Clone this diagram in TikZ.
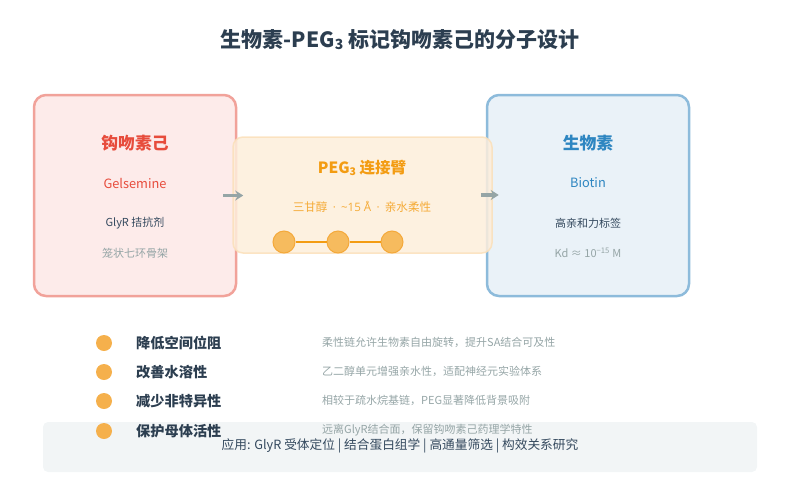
\documentclass[tikz,border=0pt]{standalone}
\usepackage{fontspec}
\setmainfont{Noto Sans CJK SC}
\newfontfamily\latinfont{Open Sans}
\usetikzlibrary{arrows.meta}

\definecolor{ink}{HTML}{2C3E50}
\definecolor{darktxt}{HTML}{34495E}
\definecolor{graytxt}{HTML}{95A5A6}
\definecolor{gelred}{HTML}{E74C3C}
\definecolor{gelfill}{HTML}{FDEBEA}
\definecolor{gelline}{HTML}{F1A29A}
\definecolor{pegorange}{HTML}{F39C12}
\definecolor{pegfill}{HTML}{FDEEDB}
\definecolor{pegline}{HTML}{FBE0BA}
\definecolor{beadfill}{HTML}{F6BB5E}
\definecolor{beadline}{HTML}{F4A93A}
\definecolor{bioblue}{HTML}{2E86C1}
\definecolor{biofill}{HTML}{EAF2F8}
\definecolor{bioline}{HTML}{8DBBDB}
\definecolor{dotfill}{HTML}{F5B04C}
\definecolor{barfill}{HTML}{F2F5F6}
\definecolor{arrowgray}{HTML}{95A5A6}

\tikzset{
  molbox/.style={rounded corners=12pt, line width=2.5pt, minimum width=202pt, minimum height=201pt},
  linkbox/.style={rounded corners=10pt, draw=pegline, fill=pegfill, fill opacity=0.85, draw opacity=0.85,
    line width=1.5pt, minimum width=259pt, minimum height=116pt},
  bead/.style={circle, draw=beadline, fill=beadfill, line width=1pt, minimum size=22pt, inner sep=0pt},
  dot/.style={circle, fill=dotfill, minimum size=16pt, inner sep=0pt},
  point/.style={anchor=west, font=\fontsize{14.2}{17}\selectfont\bfseries, text=ink, inner sep=0pt},
  note/.style={anchor=west, font=\fontsize{11}{13}\selectfont, text=graytxt, inner sep=0pt},
  flow/.style={draw=arrowgray, line width=3.2pt, -{Stealth[length=8pt,width=10pt]}},
}

\begin{document}
\begin{tikzpicture}[x=1pt,y=-1pt]
        \useasboundingbox (0,0) rectangle (800,485);
        % title
        \node[font=\fontsize{21}{25}\selectfont\bfseries, text=ink] (title) at (400,40)
          {生物素-PEG\raisebox{-0.15ex}{\fontsize{14}{15}\selectfont 3} 标记钩吻素己的分子设计};

        % bottom bar (behind the last row)
        \node[fill=barfill, rounded corners=5pt, minimum width=714pt, minimum height=50pt] (bar) at (400,447) {};
        \node[font=\fontsize{12.7}{15}\selectfont, text=darktxt] (apps) at (400,446)
          {应用: GlyR 受体定位 | 结合蛋白组学 | 高通量筛选 | 构效关系研究};

        % gelsemine box
        \node[molbox, draw=gelline, fill=gelfill] (gel) at (135,195.5) {};
        \node[font=\fontsize{16.8}{20}\selectfont\bfseries, text=gelred] (gelname) at (135,143) {钩吻素己};
        \node[font=\fontsize{12.8}{15}\selectfont, text=gelred] (gelen) at (135,183) {Gelsemine};
        \node[font=\fontsize{11}{13}\selectfont, text=darktxt] (gelrole) at (135,223) {GlyR 拮抗剂};
        \node[font=\fontsize{11}{13}\selectfont, text=graytxt] (gelcore) at (135,253) {笼状七环骨架};

        % biotin box
        \node[molbox, draw=bioline, fill=biofill] (bio) at (588,195.5) {};
        \node[font=\fontsize{16.8}{20}\selectfont\bfseries, text=bioblue] (bioname) at (588,143) {生物素};
        \node[font=\fontsize{12.8}{15}\selectfont, text=bioblue] (bioen) at (588,183) {Biotin};
        \node[font=\fontsize{11}{13}\selectfont, text=darktxt] (biorole) at (588,223) {高亲和力标签};
        \node[font=\fontsize{11}{13}\selectfont, text=graytxt] (biokd) at (588,253) {Kd ≈ 10\textsuperscript{−15} M};

        % PEG3 linker box
        \node[linkbox] (peg) at (362.5,195) {};
        \node[font=\fontsize{15.5}{18}\selectfont\bfseries, text=pegorange] (pegname) at (362,168)
          {PEG\raisebox{-0.15ex}{\fontsize{10.5}{11}\selectfont 3} 连接臂};
        \node[font=\fontsize{11.6}{13}\selectfont, text=pegorange!85] (peginfo) at (362,207)
          {三甘醇{\latinfont\hspace{0.45em}·\hspace{0.45em}\textasciitilde15 Å\hspace{0.45em}·\hspace{0.45em}}亲水柔性};
        \node[bead] (b1) at (284,242) {};
        \node[bead] (b2) at (338,242) {};
        \node[bead] (b3) at (392,242) {};
        \draw[draw=pegorange, line width=2.5pt] (b1) -- (b2) -- (b3);

        % arrows
        \draw[flow] ([xshift=-14pt]gel.east) -- ([xshift=6pt]gel.east);
        \draw[flow] ([xshift=-12pt]peg.east) -- ([xshift=6pt]peg.east);

        % advantages
        \node[dot] (d1) at (104,343) {};
        \node[dot] (d2) at (104,372) {};
        \node[dot] (d3) at (104,401) {};
        \node[dot] (d4) at (104,431) {};
        \node[point] (p1) at (136,343) {降低空间位阻};
        \node[point] (p2) at (136,372) {改善水溶性};
        \node[point] (p3) at (136,401) {减少非特异性};
        \node[point] (p4) at (136,431) {保护母体活性};
        \node[note] (n1) at (322,342) {柔性链允许生物素自由旋转，提升SA结合可及性};
        \node[note] (n2) at (322,371) {乙二醇单元增强亲水性，适配神经元实验体系};
        \node[note] (n3) at (322,400) {相较于疏水烷基链，PEG显著降低背景吸附};
        \node[note] (n4) at (322,430) {远离GlyR结合面，保留钩吻素己药理学特性};
\end{tikzpicture}
\end{document}
